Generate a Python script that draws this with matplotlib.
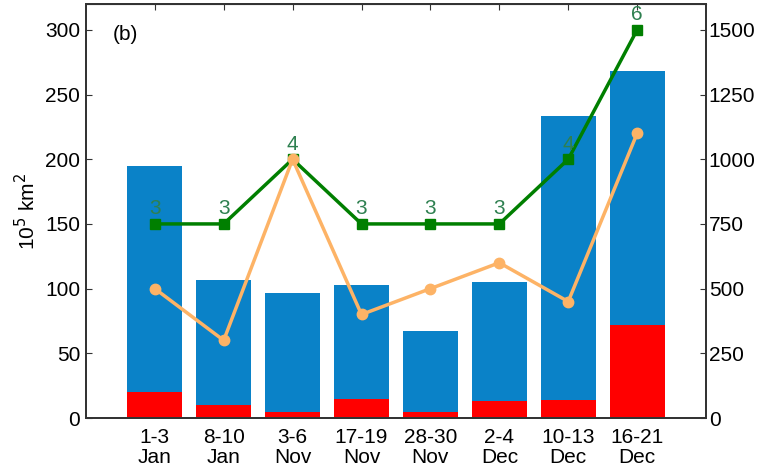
import matplotlib
matplotlib.use("Agg")
import matplotlib.pyplot as plt

plt.rcParams['font.family'] = ['Liberation Sans', 'DejaVu Sans']

# --- data ---
periods = ["1-3\nJan", "8-10\nJan", "3-6\nNov", "17-19\nNov", "28-30\nNov", "2-4\nDec", "10-13\nDec", "16-21\nDec"]
area_total = [195, 107, 97, 103, 67, 105.5, 233.5, 268]      # blue bars, 10^5 km^2
area_red = [20, 10, 5, 14.5, 5, 13, 14, 71.5]                 # red part of bars
orange_vals = [500, 300, 1000, 400, 500, 600, 450, 1100]      # right axis
green_vals = [750, 750, 1000, 750, 750, 750, 1000, 1500]      # right axis
green_counts = [3, 3, 4, 3, 3, 3, 4, 6]

BLUE = "#0A82C8"
RED = "#FF0000"
ORANGE = "#FDB366"
GREEN = "#007F00"
LABEL_GREEN = "#2E8050"
SPINE = "#333333"
FS = 15

fig = plt.figure(figsize=(7.6, 4.75), dpi=100)
ax = fig.add_axes([0.113, 0.12, 0.816, 0.8716])
x = list(range(len(periods)))

ax.bar(x, area_total, width=0.8, color=BLUE, zorder=1)
ax.bar(x, area_red, width=0.8, color=RED, zorder=2)
ax.set_xlim(-1, 8)
ax.set_ylim(0, 320)
ax.set_yticks(range(0, 301, 50))
ax.set_xticks(x)
ax.set_xticklabels(periods, fontsize=FS, linespacing=1.1)
ax.set_ylabel("10$^5$ km$^2$", fontsize=FS, labelpad=4)
ax.tick_params(axis="y", direction="in", length=4, labelsize=FS, color=SPINE, pad=4)
ax.tick_params(axis="x", direction="in", length=0, pad=7)
ax.text(0.044, 0.95, "(b)", transform=ax.transAxes, fontsize=FS, va="top")

ax2 = ax.twinx()
ax2.set_ylim(0, 1600)
ax2.set_yticks(range(0, 1501, 250))
ax2.tick_params(axis="y", direction="in", length=4, labelsize=FS, color=SPINE, pad=2)
ax2.plot(x, green_vals, color=GREEN, lw=2.5, marker="s", ms=7, zorder=3)
ax2.plot(x, orange_vals, color=ORANGE, lw=2.5, marker="o", ms=7.5, zorder=4)
for xi, yi, c in zip(x, green_vals, green_counts):
    ax2.text(xi, yi + 22, str(c), color=LABEL_GREEN, fontsize=FS, ha="center", va="bottom", zorder=5)

# small ticks on the top spine at each bar
ax3 = ax.secondary_xaxis("top")
ax3.set_xticks(x)
ax3.set_xticklabels([])
ax3.tick_params(direction="in", length=4, color=SPINE)

for a in (ax, ax2):
    for s in a.spines.values():
        s.set_color(SPINE)
        s.set_linewidth(1.3)

fig.savefig("out.png", dpi=100)
